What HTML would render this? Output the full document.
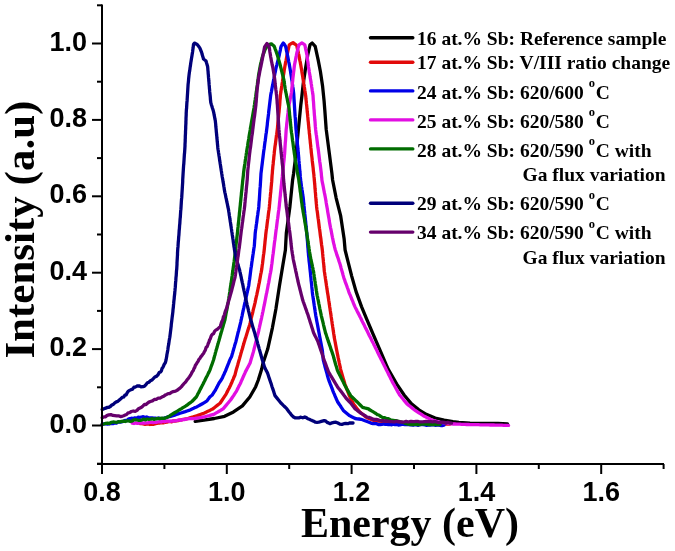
<!DOCTYPE html>
<html><head><meta charset="utf-8"><style>
html,body{margin:0;padding:0;background:#fff;}
svg{display:block;filter:blur(0.35px);}
</style></head><body>
<svg width="675" height="551" viewBox="0 0 675 551">
<rect width="675" height="551" fill="#fff"/>
<g><path d="M195.2,421.4 L203.9,420.2 L214.3,418.5 L224.6,416.3 L233.5,411.9 L242.4,405.9 L249.8,397.0 L255.7,386.7 L258.3,380.0 L261.7,369.0 L263.0,363.2 L267.7,349.1 L272.4,327.8 L275.9,309.0 L279.5,285.4 L283.0,264.2 L285.4,250.0 L286.3,233.3 L289.9,206.7 L292.6,180.0 L293.6,173.4 L296.0,153.9 L298.4,129.4 L300.8,105.0 L301.8,96.7 L303.3,83.3 L305.5,68.5 L307.7,55.2 L310.0,44.8 L312.2,43.0 L315.2,46.3 L318.1,59.6 L320.4,71.5 L322.6,86.3 L324.1,101.1 L324.8,110.0 L326.2,129.4 L329.4,153.9 L331.9,173.4 L332.6,180.0 L336.1,197.8 L340.6,215.6 L344.1,238.7 L345.1,250.0 L348.4,263.1 L351.7,276.1 L356.0,291.4 L361.5,306.6 L366.9,319.7 L373.4,334.9 L380.0,350.2 L386.5,365.4 L388.3,369.4 L396.6,383.9 L404.1,395.0 L411.5,403.9 L418.9,409.8 L426.3,414.3 L435.2,418.0 L444.1,420.2 L453.0,421.7 L458.9,422.4 L470.0,423.2 L485.0,423.4 L498.0,423.3 L507.5,423.8" stroke="#000000" stroke-width="3.3" fill="none" stroke-linejoin="round" stroke-linecap="round"/><path d="M140.0,423.5 L141.7,423.7 L143.3,424.0 L145.0,424.3 L146.7,424.1 L148.3,423.9 L150.0,424.5 L151.7,424.2 L153.3,424.4 L155.0,423.8 L156.7,423.5 L158.3,423.1 L160.0,423.0 L161.7,422.6 L163.3,422.8 L165.0,422.5 L166.7,422.2 L168.3,421.6 L170.0,421.4 L171.7,421.8 L173.3,420.9 L175.0,421.0 L176.6,420.9 L178.2,420.7 L179.9,420.2 L181.5,419.8 L183.1,419.4 L184.8,419.1 L186.4,418.8 L188.0,418.5 L189.8,417.9 L191.5,417.4 L193.2,416.9 L195.0,416.3 L196.8,415.7 L198.6,415.1 L200.3,414.5 L202.1,413.9 L203.9,413.3 L205.4,412.6 L206.9,411.8 L208.4,411.1 L209.8,410.4 L211.3,409.6 L212.8,408.9 L214.3,407.7 L215.8,406.5 L217.2,405.4 L218.7,404.2 L220.2,403.0 L221.2,401.5 L222.2,400.0 L223.1,398.6 L224.1,397.1 L225.1,395.6 L226.1,394.1 L226.8,392.6 L227.6,391.1 L228.3,389.6 L229.1,388.2 L229.8,386.7 L230.6,385.2 L231.2,383.7 L231.9,382.2 L232.5,380.7 L233.1,379.3 L233.7,377.8 L234.4,376.3 L235.0,374.8 L235.4,373.2 L235.8,371.6 L236.2,370.0 L236.7,368.3 L237.2,366.7 L237.7,365.0 L238.1,363.4 L238.6,361.7 L239.1,360.1 L239.6,358.4 L240.0,356.8 L240.5,355.2 L240.9,353.6 L241.4,352.0 L241.8,350.4 L242.3,348.9 L242.8,347.3 L243.2,345.7 L243.7,344.1 L244.1,342.5 L244.6,340.9 L245.1,339.2 L245.7,337.6 L246.2,335.9 L246.7,334.3 L247.2,332.6 L247.7,331.0 L248.2,329.3 L248.8,327.7 L249.3,326.0 L249.8,324.4 L250.3,322.4 L250.7,320.4 L251.2,318.4 L251.6,316.8 L252.0,315.2 L252.4,313.7 L252.8,312.1 L253.1,310.5 L253.5,308.9 L253.9,307.4 L254.3,305.8 L254.7,304.2 L255.1,302.6 L255.4,300.9 L255.8,299.2 L256.1,297.6 L256.5,295.9 L256.9,294.3 L257.2,292.6 L257.6,291.0 L257.9,289.3 L258.3,287.7 L258.6,286.0 L258.9,284.3 L259.3,282.6 L259.6,280.9 L259.9,279.2 L260.2,277.4 L260.5,275.7 L260.8,274.0 L261.2,272.3 L261.5,270.6 L261.8,268.9 L262.0,267.2 L262.2,265.5 L262.5,263.7 L262.7,262.0 L262.9,260.3 L263.1,258.6 L263.3,256.9 L263.5,255.2 L263.8,253.4 L264.0,251.7 L264.2,250.0 L264.4,248.3 L264.5,246.7 L264.7,245.0 L264.9,243.3 L265.0,241.7 L265.2,240.0 L265.4,238.3 L265.6,236.6 L265.7,235.0 L265.9,233.3 L266.1,231.6 L266.3,230.0 L266.6,228.3 L266.8,226.7 L267.0,225.0 L267.2,223.3 L267.4,221.7 L267.6,220.0 L267.9,218.3 L268.1,216.7 L268.3,215.0 L268.5,213.3 L268.7,211.7 L269.0,210.0 L269.2,208.4 L269.4,206.7 L269.5,205.0 L269.7,203.4 L269.8,201.7 L270.0,200.0 L270.1,198.4 L270.3,196.7 L270.4,195.0 L270.6,193.3 L270.8,191.7 L270.9,190.0 L271.1,188.3 L271.2,186.7 L271.4,185.0 L271.5,183.3 L271.7,181.7 L271.8,180.0 L271.9,178.4 L272.0,176.7 L272.1,175.1 L272.3,173.5 L272.4,171.8 L272.5,170.2 L272.7,168.6 L272.8,166.9 L273.0,165.3 L273.2,163.7 L273.3,162.0 L273.5,160.4 L273.7,158.8 L273.8,157.1 L274.0,155.5 L274.2,153.9 L274.3,152.2 L274.5,150.6 L274.7,149.0 L274.9,147.3 L275.1,145.7 L275.4,144.1 L275.6,142.4 L275.8,140.8 L276.0,139.2 L276.2,137.6 L276.4,135.9 L276.7,134.3 L276.9,132.7 L277.1,131.0 L277.3,129.4 L277.5,127.8 L277.6,126.1 L277.8,124.5 L277.9,122.9 L278.1,121.3 L278.3,119.6 L278.4,118.0 L278.6,116.4 L278.7,114.8 L278.9,113.1 L279.1,111.5 L279.2,109.9 L279.4,108.3 L279.5,106.6 L279.7,105.0 L279.8,103.4 L279.9,101.7 L280.0,100.1 L280.2,98.5 L280.3,96.8 L280.4,95.2 L280.6,93.6 L280.9,91.9 L281.1,90.3 L281.4,88.6 L281.6,87.0 L281.9,85.3 L282.1,83.7 L282.4,82.0 L282.6,80.4 L282.9,78.7 L283.2,77.1 L283.4,75.4 L283.7,73.7 L284.0,72.0 L284.2,70.3 L284.5,68.7 L284.8,67.0 L285.1,65.3 L285.4,63.6 L285.7,61.9 L286.1,60.3 L286.4,58.6 L286.7,56.9 L287.0,55.2 L287.4,53.5 L287.8,51.7 L288.1,50.0 L288.5,48.3 L288.9,46.5 L289.3,44.8 L291.1,43.7 L293.0,42.6 L294.9,44.1 L296.7,45.6 L297.1,47.2 L297.4,48.8 L297.8,50.4 L298.2,52.0 L298.5,53.6 L298.9,55.2 L299.2,56.9 L299.5,58.6 L299.8,60.3 L300.2,61.9 L300.5,63.6 L300.8,65.3 L301.1,67.0 L301.4,68.7 L301.7,70.3 L301.9,72.0 L302.2,73.7 L302.5,75.4 L302.8,77.1 L303.0,78.7 L303.3,80.4 L303.6,82.0 L303.8,83.7 L304.1,85.3 L304.3,87.0 L304.6,88.6 L304.8,90.3 L305.1,91.9 L305.3,93.6 L305.6,95.2 L305.8,96.8 L305.9,98.5 L306.1,100.1 L306.3,101.7 L306.4,103.4 L306.6,105.0 L306.8,106.6 L306.9,108.3 L307.1,109.9 L307.2,111.5 L307.4,113.1 L307.6,114.8 L307.7,116.4 L307.9,118.0 L308.0,119.6 L308.2,121.3 L308.4,122.9 L308.5,124.5 L308.7,126.1 L308.8,127.8 L309.0,129.4 L309.2,131.0 L309.3,132.7 L309.5,134.3 L309.7,135.9 L309.8,137.6 L310.0,139.2 L310.2,140.8 L310.3,142.5 L310.5,144.1 L310.7,145.7 L310.8,147.4 L311.0,149.0 L311.2,150.6 L311.3,152.3 L311.5,153.9 L311.7,155.5 L311.9,157.1 L312.1,158.8 L312.2,160.4 L312.4,162.0 L312.6,163.6 L312.8,165.3 L313.0,166.9 L313.2,168.5 L313.3,170.1 L313.5,171.8 L313.7,173.4 L313.9,175.0 L314.0,176.7 L314.2,178.3 L314.3,180.0 L314.5,181.7 L314.6,183.3 L314.8,185.0 L314.9,186.7 L315.0,188.3 L315.2,190.0 L315.3,191.7 L315.5,193.4 L315.6,195.0 L315.7,196.7 L315.9,198.4 L316.0,200.0 L316.2,201.7 L316.3,203.4 L316.5,205.0 L316.6,206.7 L316.8,208.4 L317.0,210.0 L317.3,211.7 L317.5,213.3 L317.7,215.0 L317.9,216.7 L318.1,218.3 L318.4,220.0 L318.6,221.7 L318.8,223.3 L319.0,225.0 L319.2,226.7 L319.4,228.3 L319.7,230.0 L319.9,231.6 L320.1,233.3 L320.3,235.0 L320.5,236.6 L320.8,238.3 L321.0,240.0 L321.2,241.7 L321.4,243.3 L321.6,245.0 L321.9,246.7 L322.1,248.3 L322.3,250.0 L322.5,251.7 L322.6,253.4 L322.8,255.0 L322.9,256.7 L323.1,258.4 L323.3,260.1 L323.4,261.7 L323.6,263.4 L323.8,265.1 L323.9,266.8 L324.1,268.4 L324.2,270.1 L324.4,271.8 L324.7,273.5 L324.9,275.2 L325.2,276.8 L325.4,278.5 L325.7,280.2 L325.9,281.9 L326.2,283.5 L326.4,285.2 L326.7,286.9 L326.9,288.6 L327.2,290.2 L327.4,291.9 L327.7,293.6 L328.0,295.3 L328.2,296.9 L328.5,298.6 L328.7,300.3 L329.0,301.9 L329.2,303.6 L329.5,305.3 L329.7,307.0 L330.0,308.6 L330.2,310.3 L330.5,312.0 L330.7,313.6 L331.0,315.3 L331.2,317.0 L331.5,318.7 L331.7,320.3 L332.0,322.0 L332.2,323.7 L332.5,325.4 L332.7,327.0 L333.0,328.7 L333.2,330.4 L333.5,332.1 L333.7,333.7 L334.0,335.4 L334.2,337.1 L334.5,338.7 L334.8,340.3 L335.1,341.8 L335.4,343.4 L335.7,345.0 L336.0,346.6 L336.3,348.2 L336.6,349.8 L336.9,351.3 L337.2,352.9 L337.5,354.5 L337.9,356.2 L338.2,357.9 L338.6,359.7 L339.0,361.4 L339.3,363.1 L339.7,364.8 L340.1,366.6 L340.4,368.3 L340.8,370.0 L341.3,371.7 L341.8,373.4 L342.3,375.1 L342.8,376.9 L343.3,378.6 L343.8,380.3 L344.3,382.0 L344.8,383.7 L345.4,385.4 L346.1,387.1 L346.7,388.8 L347.4,390.5 L348.0,392.2 L348.7,393.9 L349.3,395.6 L350.0,397.1 L350.8,398.5 L351.5,400.0 L352.2,401.5 L353.0,402.9 L353.7,404.4 L354.9,405.9 L356.1,407.4 L357.2,408.9 L358.4,410.4 L359.6,411.9 L361.1,413.1 L362.6,414.3 L364.0,415.4 L365.5,416.6 L367.0,417.8 L368.9,418.5 L370.7,419.2 L372.5,420.0 L374.4,420.7 L376.3,420.9 L378.1,421.1 L380.0,421.1 L381.9,421.5 L383.5,421.7 L385.1,421.9 L386.8,421.7 L388.4,422.2 L390.0,422.2 L391.7,422.1 L393.3,422.4 L395.0,422.5 L396.7,422.2 L398.3,422.6 L400.0,422.6 L401.7,422.5 L403.3,422.9 L405.0,422.6 L406.7,423.0 L408.3,423.1 L410.0,423.0 L411.7,422.7 L413.3,422.8 L415.0,422.9 L416.7,423.0 L418.3,423.3 L420.0,423.5 L421.7,423.0 L423.3,423.6 L425.0,423.3 L426.7,423.7 L428.3,423.2 L430.0,423.5 L431.7,423.1 L433.3,423.9 L435.0,423.4 L436.7,423.6 L438.3,423.4 L440.0,423.6 L441.7,424.0 L443.3,423.6 L445.0,424.1 L446.7,424.0 L448.3,424.1 L450.0,424.0" stroke="#e20a0a" stroke-width="3.3" fill="none" stroke-linejoin="round" stroke-linecap="round"/><path d="M102.2,424.4 L104.0,423.9 L105.8,423.8 L107.6,424.0 L109.4,423.9 L111.2,423.5 L113.0,423.6 L114.8,423.0 L116.5,423.0 L118.2,421.9 L119.9,422.1 L121.6,421.9 L123.3,421.5 L125.0,420.5 L126.7,420.7 L128.3,419.2 L130.0,418.7 L131.6,418.2 L133.3,418.5 L134.9,417.9 L136.6,418.1 L138.2,417.2 L139.9,417.3 L141.5,417.0 L143.2,416.7 L145.0,417.6 L146.7,417.0 L148.4,417.8 L150.2,417.8 L151.9,417.8 L153.6,418.2 L155.3,418.1 L157.1,418.6 L158.8,418.0 L160.5,418.8 L162.2,418.5 L163.8,418.5 L165.4,417.7 L167.0,417.2 L169.1,416.6 L171.1,416.3 L172.9,415.7 L174.7,415.1 L176.4,414.5 L178.2,413.9 L180.0,413.3 L181.8,412.7 L183.6,412.1 L185.3,411.6 L187.1,411.0 L188.9,410.4 L190.5,409.7 L192.0,409.0 L193.6,408.3 L195.1,407.6 L196.7,406.9 L198.1,406.1 L199.6,405.3 L201.0,404.5 L202.4,403.7 L203.9,402.8 L205.5,401.8 L207.0,400.9 L207.9,399.6 L208.9,398.3 L209.8,397.0 L212.2,395.0 L213.1,393.6 L213.9,392.3 L214.8,391.0 L215.7,389.6 L216.4,388.1 L217.2,386.6 L217.9,385.2 L218.7,383.7 L219.6,382.2 L220.6,380.8 L221.5,379.3 L222.4,377.8 L223.1,376.1 L223.9,374.5 L224.6,372.8 L225.4,371.2 L226.1,369.5 L226.7,367.9 L227.3,366.3 L227.9,364.8 L228.6,363.2 L229.2,361.6 L229.8,360.0 L230.8,358.1 L231.7,356.2 L232.1,354.6 L232.6,353.0 L233.0,351.4 L233.5,349.8 L233.9,348.2 L234.4,346.7 L234.8,345.1 L235.3,343.5 L235.8,341.9 L236.2,340.3 L236.6,338.6 L237.0,337.0 L237.4,335.3 L237.8,333.7 L238.2,332.0 L238.7,330.4 L239.1,328.7 L239.5,327.1 L239.9,325.4 L240.3,323.8 L240.7,322.1 L241.0,320.5 L241.4,318.9 L241.7,317.4 L242.1,315.8 L242.4,314.2 L242.7,312.6 L243.1,311.0 L243.4,309.5 L243.8,307.9 L244.1,306.3 L244.5,304.7 L244.8,303.1 L245.2,301.6 L245.5,300.0 L245.9,298.4 L246.2,296.8 L246.6,295.3 L246.9,293.7 L247.3,292.1 L247.6,290.5 L248.0,289.0 L248.3,287.4 L248.7,285.8 L248.9,284.2 L249.1,282.6 L249.3,281.0 L249.6,279.5 L249.8,277.9 L250.0,276.3 L250.2,274.7 L250.4,273.1 L250.6,271.5 L250.8,269.9 L251.0,268.3 L251.3,266.8 L251.5,265.2 L251.7,263.6 L251.9,262.0 L252.2,260.3 L252.4,258.6 L252.7,256.9 L252.9,255.2 L253.2,253.5 L253.4,251.8 L253.7,250.1 L253.9,248.4 L254.2,246.7 L254.4,245.0 L254.5,243.3 L254.6,241.7 L254.7,240.0 L254.9,238.3 L255.0,236.6 L255.1,235.0 L255.2,233.3 L255.4,231.6 L255.6,230.0 L255.9,228.3 L256.1,226.7 L256.3,225.0 L256.6,223.3 L256.8,221.7 L257.0,220.0 L257.2,218.3 L257.4,216.7 L257.7,215.0 L257.9,213.3 L258.1,211.7 L258.4,210.0 L258.6,208.4 L258.8,206.7 L258.9,205.1 L259.0,203.4 L259.1,201.8 L259.3,200.1 L259.4,198.5 L259.5,196.8 L259.6,195.2 L259.7,193.5 L259.8,191.9 L259.9,190.2 L260.0,188.6 L260.2,186.9 L260.3,185.3 L260.4,183.6 L260.5,182.0 L260.6,180.3 L260.7,178.6 L260.8,176.8 L260.9,175.1 L261.0,173.4 L261.2,171.8 L261.4,170.2 L261.6,168.5 L261.8,166.9 L262.0,165.3 L262.2,163.7 L262.4,162.0 L262.6,160.4 L262.8,158.8 L263.0,157.2 L263.2,155.5 L263.4,153.9 L263.6,152.3 L263.8,150.6 L264.1,149.0 L264.3,147.4 L264.5,145.7 L264.7,144.1 L264.9,142.5 L265.2,140.8 L265.4,139.2 L265.6,137.6 L265.8,135.9 L266.0,134.3 L266.3,132.7 L266.5,131.0 L266.7,129.4 L266.9,127.8 L267.1,126.2 L267.3,124.6 L267.4,123.0 L267.6,121.4 L267.8,119.8 L268.0,118.2 L268.2,116.6 L268.4,115.0 L268.6,113.4 L268.7,111.8 L268.9,110.2 L269.1,108.6 L269.3,107.0 L269.5,105.3 L269.7,103.6 L269.9,101.9 L270.1,100.3 L270.3,98.6 L270.5,96.9 L270.7,95.2 L271.0,93.5 L271.4,91.8 L271.7,90.1 L272.0,88.4 L272.3,86.7 L272.7,85.0 L273.0,83.3 L273.3,81.7 L273.6,80.0 L274.0,78.4 L274.3,76.7 L274.6,75.1 L274.9,73.4 L275.3,71.8 L275.6,70.1 L275.9,68.5 L276.3,66.8 L276.8,65.1 L277.2,63.4 L277.6,61.8 L278.0,60.1 L278.5,58.4 L278.9,56.7 L279.3,55.0 L279.6,53.2 L280.0,51.5 L280.4,49.8 L280.7,48.0 L281.1,46.3 L282.2,44.6 L283.3,43.0 L284.5,44.6 L285.6,46.3 L286.0,48.0 L286.3,49.8 L286.7,51.5 L287.1,53.2 L287.4,55.0 L287.8,56.7 L288.1,58.4 L288.4,60.1 L288.7,61.8 L289.1,63.4 L289.4,65.1 L289.7,66.8 L290.0,68.5 L290.3,70.2 L290.6,71.8 L290.8,73.5 L291.1,75.2 L291.4,76.9 L291.6,78.6 L291.9,80.2 L292.2,81.9 L292.4,83.6 L292.6,85.3 L292.8,87.0 L293.1,88.6 L293.3,90.3 L293.5,92.0 L293.7,93.7 L293.8,95.3 L293.9,96.9 L294.0,98.5 L294.1,100.2 L294.2,101.8 L294.3,103.4 L294.4,105.0 L294.5,106.6 L294.6,108.3 L294.7,109.9 L294.8,111.5 L294.9,113.1 L295.0,114.8 L295.1,116.4 L295.3,118.0 L295.4,119.6 L295.5,121.3 L295.6,122.9 L295.7,124.5 L295.8,126.1 L295.9,127.8 L296.0,129.4 L296.2,131.0 L296.3,132.7 L296.5,134.3 L296.6,135.9 L296.8,137.6 L297.0,139.2 L297.1,140.8 L297.3,142.5 L297.4,144.1 L297.6,145.7 L297.8,147.4 L297.9,149.0 L298.1,150.6 L298.2,152.3 L298.4,153.9 L298.5,155.5 L298.7,157.2 L298.8,158.8 L298.9,160.4 L299.1,162.1 L299.2,163.7 L299.4,165.3 L299.5,166.9 L299.6,168.6 L299.8,170.2 L299.9,171.8 L300.1,173.5 L300.2,175.1 L300.3,176.7 L300.5,178.4 L300.6,180.0 L300.8,181.6 L301.1,183.2 L301.3,184.9 L301.5,186.5 L301.8,188.1 L302.0,189.7 L302.3,191.3 L302.5,192.9 L302.7,194.6 L303.0,196.2 L303.2,197.8 L303.4,199.4 L303.5,201.0 L303.7,202.6 L303.9,204.3 L304.0,205.9 L304.2,207.5 L304.3,209.1 L304.5,210.7 L304.7,212.3 L304.8,213.9 L305.0,215.6 L305.2,217.2 L305.3,218.8 L305.5,220.4 L305.7,222.0 L305.8,223.6 L306.0,225.2 L306.1,226.8 L306.3,228.5 L306.5,230.1 L306.6,231.7 L306.8,233.3 L306.9,235.0 L307.1,236.6 L307.2,238.3 L307.3,240.0 L307.5,241.6 L307.6,243.3 L307.7,245.0 L307.8,246.7 L308.0,248.3 L308.1,250.0 L308.2,251.7 L308.4,253.3 L308.5,255.0 L308.7,256.7 L308.9,258.4 L309.0,260.0 L309.2,261.7 L309.4,263.4 L309.6,265.1 L309.8,266.8 L309.9,268.4 L310.1,270.1 L310.3,271.8 L310.5,273.5 L310.6,275.2 L310.8,276.8 L311.0,278.5 L311.1,280.2 L311.3,281.9 L311.5,283.5 L311.7,285.2 L311.8,286.9 L312.0,288.6 L312.2,290.2 L312.3,291.9 L312.5,293.6 L312.7,295.3 L313.0,296.9 L313.2,298.6 L313.5,300.3 L313.7,301.9 L314.0,303.6 L314.2,305.3 L314.5,307.0 L314.7,308.6 L315.0,310.3 L315.2,312.0 L315.5,313.6 L315.7,315.3 L316.0,316.9 L316.3,318.5 L316.6,320.1 L316.9,321.7 L317.2,323.3 L317.5,324.8 L317.8,326.4 L318.1,328.0 L318.4,329.6 L318.7,331.2 L319.0,332.8 L319.3,334.4 L319.6,336.0 L319.9,337.5 L320.2,339.1 L320.5,340.7 L320.8,342.3 L321.1,343.9 L321.4,345.5 L321.7,347.0 L322.0,348.6 L322.3,350.2 L322.5,351.8 L322.6,353.5 L322.8,355.1 L323.0,356.7 L323.1,358.4 L323.3,360.0 L323.8,361.8 L324.2,363.6 L324.7,365.3 L325.1,367.1 L325.6,368.9 L326.1,370.6 L326.6,372.4 L327.1,374.1 L327.5,375.8 L328.0,377.6 L328.5,379.3 L329.1,381.0 L329.8,382.7 L330.4,384.4 L331.1,386.0 L331.7,387.7 L332.4,389.4 L333.0,391.1 L333.6,392.6 L334.3,394.1 L334.9,395.6 L335.5,397.0 L336.1,398.5 L336.8,400.0 L337.4,401.5 L338.4,403.0 L339.4,404.5 L340.4,405.9 L341.3,407.4 L342.3,408.9 L343.3,410.4 L344.8,411.7 L346.3,413.0 L347.8,414.3 L349.3,415.6 L350.8,416.3 L352.2,417.1 L353.7,417.8 L355.2,418.5 L357.2,418.8 L359.1,419.0 L361.1,419.3 L363.1,420.0 L365.0,420.8 L367.0,421.5 L369.0,422.2 L371.0,423.1 L373.0,423.7 L374.8,423.4 L376.6,423.7 L378.3,424.5 L380.1,424.7 L381.9,424.4 L383.5,424.0 L385.1,424.3 L386.8,424.3 L388.4,424.6 L390.0,424.4 L391.7,424.8 L393.3,424.2 L395.0,424.7 L396.7,424.5 L398.3,425.0 L400.0,424.8 L401.7,424.4 L403.3,424.4 L405.0,424.7 L406.7,424.7 L408.3,424.4 L410.0,424.8 L411.7,424.8 L413.3,425.2 L415.0,424.6 L416.7,424.9 L418.3,425.3 L420.0,424.5 L421.7,424.7 L423.3,424.6 L425.0,425.0 L426.7,425.4 L428.3,424.8 L430.0,425.0 L431.8,424.9 L433.5,424.7 L435.2,425.3 L437.0,425.2 L438.8,425.2 L440.5,425.5 L442.2,425.5 L444.0,425.2" stroke="#0000e8" stroke-width="3.3" fill="none" stroke-linejoin="round" stroke-linecap="round"/><path d="M132.2,423.1 L134.0,423.5 L135.8,423.0 L137.6,423.3 L139.4,422.8 L141.2,423.1 L143.0,423.0 L144.8,423.1 L146.4,422.9 L148.1,422.8 L149.7,422.4 L151.4,422.1 L153.0,422.6 L154.7,422.2 L156.3,422.3 L158.0,422.0 L159.6,421.7 L161.2,422.0 L162.9,421.2 L164.5,421.8 L166.2,421.2 L167.8,421.0 L169.5,421.4 L171.1,421.2 L172.8,421.0 L174.4,420.9 L176.1,420.8 L177.7,420.2 L179.4,419.9 L181.0,420.3 L182.7,419.6 L184.3,419.7 L186.0,419.2 L187.6,418.9 L189.3,418.7 L191.2,418.6 L193.1,418.6 L195.0,418.5 L196.8,418.2 L198.6,417.9 L200.3,417.6 L202.1,417.3 L203.9,417.0 L205.6,416.5 L207.4,416.0 L209.1,415.6 L210.8,415.1 L212.6,414.6 L214.3,414.1 L215.8,413.2 L217.2,412.4 L218.7,411.5 L220.2,410.6 L221.6,409.8 L223.1,408.9 L224.2,407.6 L225.2,406.4 L226.3,405.1 L227.4,403.8 L228.5,402.5 L229.5,401.3 L230.6,400.0 L231.6,398.5 L232.6,397.0 L233.6,395.6 L234.5,394.1 L235.5,392.6 L236.5,391.1 L237.2,389.6 L238.0,388.1 L238.7,386.6 L239.4,385.2 L240.2,383.7 L240.9,382.2 L241.5,380.7 L242.2,379.3 L242.8,377.8 L243.5,376.3 L244.1,374.8 L244.8,373.4 L245.4,371.9 L246.2,370.4 L246.9,369.0 L247.7,367.5 L248.5,366.1 L249.2,364.6 L250.0,363.2 L250.5,361.5 L251.0,359.8 L251.5,358.1 L252.0,356.5 L252.5,354.8 L253.0,353.1 L253.5,351.4 L253.9,349.8 L254.3,348.2 L254.7,346.7 L255.1,345.1 L255.5,343.5 L255.9,341.9 L256.3,340.4 L256.7,338.8 L257.1,337.2 L257.5,335.6 L257.9,334.1 L258.3,332.5 L258.7,330.9 L259.0,329.2 L259.4,327.6 L259.7,326.0 L260.1,324.3 L260.5,322.7 L260.8,321.1 L261.2,319.5 L261.6,317.8 L261.9,316.2 L262.3,314.6 L262.6,312.9 L263.0,311.3 L263.3,309.7 L263.6,308.2 L263.9,306.6 L264.3,305.0 L264.6,303.4 L264.9,301.9 L265.2,300.3 L265.5,298.7 L265.8,297.1 L266.1,295.6 L266.4,294.0 L266.8,292.4 L267.1,290.8 L267.4,289.3 L267.7,287.7 L268.0,286.0 L268.3,284.3 L268.7,282.6 L269.0,280.9 L269.3,279.2 L269.6,277.4 L269.9,275.7 L270.2,274.0 L270.6,272.3 L270.9,270.6 L271.2,268.9 L271.4,267.2 L271.6,265.5 L271.9,263.7 L272.1,262.0 L272.3,260.3 L272.5,258.6 L272.7,256.9 L272.9,255.2 L273.2,253.4 L273.4,251.7 L273.6,250.0 L273.8,248.3 L274.0,246.7 L274.2,245.0 L274.4,243.3 L274.6,241.7 L274.9,240.0 L275.1,238.3 L275.3,236.6 L275.5,235.0 L275.7,233.3 L275.9,231.6 L276.1,230.0 L276.4,228.3 L276.6,226.7 L276.8,225.0 L277.0,223.3 L277.2,221.7 L277.4,220.0 L277.7,218.3 L277.9,216.7 L278.1,215.0 L278.3,213.3 L278.5,211.7 L278.8,210.0 L279.0,208.4 L279.2,206.7 L279.4,205.0 L279.5,203.4 L279.7,201.7 L279.9,200.0 L280.0,198.4 L280.2,196.7 L280.4,195.0 L280.5,193.3 L280.7,191.7 L280.9,190.0 L281.1,188.3 L281.2,186.7 L281.4,185.0 L281.6,183.3 L281.7,181.7 L281.9,180.0 L282.1,178.4 L282.3,176.7 L282.4,175.1 L282.6,173.5 L282.8,171.8 L283.0,170.2 L283.2,168.6 L283.3,166.9 L283.5,165.3 L283.6,163.7 L283.8,162.1 L284.0,160.4 L284.1,158.8 L284.3,157.2 L284.4,155.5 L284.6,153.9 L284.7,152.3 L284.8,150.6 L284.9,149.0 L285.0,147.4 L285.1,145.7 L285.2,144.1 L285.3,142.5 L285.5,140.8 L285.6,139.2 L285.7,137.6 L285.8,135.9 L285.9,134.3 L286.0,132.7 L286.1,131.0 L286.2,129.4 L286.4,127.8 L286.6,126.1 L286.7,124.5 L286.9,122.8 L287.1,121.2 L287.3,119.5 L287.4,117.9 L287.6,116.2 L287.8,114.6 L288.0,112.9 L288.1,111.3 L288.3,109.6 L288.5,108.0 L288.8,106.4 L289.1,104.8 L289.4,103.3 L289.7,101.7 L290.0,100.1 L290.3,98.5 L290.6,96.9 L290.9,95.4 L291.2,93.8 L291.5,92.2 L291.7,90.6 L291.8,88.9 L292.0,87.3 L292.2,85.6 L292.3,84.0 L292.5,82.3 L292.7,80.7 L292.8,79.0 L293.0,77.4 L293.2,75.7 L293.4,74.0 L293.6,72.3 L293.8,70.7 L294.0,69.0 L294.2,67.3 L294.4,65.6 L294.7,63.9 L295.1,62.2 L295.4,60.5 L295.7,58.8 L296.0,57.1 L296.4,55.4 L296.7,53.7 L297.1,51.9 L297.6,50.1 L298.0,48.4 L298.5,46.6 L298.9,44.8 L300.4,43.9 L301.9,43.0 L303.4,43.9 L304.8,44.8 L305.2,46.5 L305.5,48.3 L305.9,50.0 L306.3,51.7 L306.6,53.5 L307.0,55.2 L307.2,56.9 L307.4,58.6 L307.6,60.3 L307.9,61.9 L308.1,63.6 L308.3,65.3 L308.5,67.0 L308.8,68.7 L309.1,70.3 L309.3,72.0 L309.6,73.7 L309.9,75.4 L310.1,77.1 L310.4,78.7 L310.7,80.4 L311.0,82.0 L311.2,83.7 L311.5,85.3 L311.7,87.0 L312.0,88.6 L312.2,90.3 L312.5,91.9 L312.7,93.6 L313.0,95.2 L313.1,96.9 L313.2,98.6 L313.3,100.3 L313.5,101.9 L313.6,103.6 L313.7,105.3 L313.8,107.0 L313.9,108.6 L314.1,110.2 L314.2,111.8 L314.3,113.4 L314.4,115.0 L314.6,116.6 L314.7,118.2 L314.8,119.8 L315.0,121.4 L315.1,123.0 L315.2,124.6 L315.3,126.2 L315.5,127.8 L315.6,129.4 L315.8,131.0 L316.0,132.7 L316.2,134.3 L316.5,135.9 L316.7,137.6 L316.9,139.2 L317.1,140.8 L317.3,142.5 L317.5,144.1 L317.7,145.7 L317.9,147.4 L318.2,149.0 L318.4,150.6 L318.6,152.3 L318.8,153.9 L319.0,155.5 L319.2,157.2 L319.4,158.8 L319.6,160.4 L319.8,162.0 L320.1,163.7 L320.3,165.3 L320.5,166.9 L320.7,168.5 L320.9,170.2 L321.1,171.8 L321.3,173.4 L321.4,175.1 L321.6,176.7 L321.8,178.3 L321.9,180.0 L322.2,181.6 L322.5,183.2 L322.9,184.9 L323.2,186.5 L323.5,188.1 L323.8,189.7 L324.1,191.3 L324.4,192.9 L324.8,194.6 L325.1,196.2 L325.4,197.8 L325.7,199.5 L326.0,201.1 L326.2,202.8 L326.5,204.5 L326.8,206.1 L327.1,207.8 L327.4,209.4 L327.6,211.1 L327.9,212.8 L328.2,214.4 L328.5,216.1 L328.8,217.8 L329.1,219.4 L329.3,221.1 L329.6,222.7 L329.9,224.4 L330.2,226.0 L330.5,227.6 L330.9,229.3 L331.2,230.9 L331.5,232.5 L331.8,234.1 L332.1,235.7 L332.4,237.3 L332.8,239.0 L333.1,240.6 L333.4,242.2 L333.8,243.8 L334.2,245.3 L334.5,246.9 L334.9,248.4 L335.3,250.0 L335.9,251.6 L336.4,253.3 L336.9,254.9 L337.5,256.6 L338.1,258.2 L338.6,259.8 L339.1,261.5 L339.7,263.1 L340.2,264.8 L340.7,266.5 L341.1,268.2 L341.6,269.9 L342.1,271.5 L342.6,273.2 L343.0,274.9 L343.5,276.6 L344.0,278.3 L344.6,279.8 L345.1,281.4 L345.6,282.9 L346.2,284.4 L346.8,286.0 L347.3,287.5 L347.9,289.0 L348.4,290.5 L348.9,292.1 L349.5,293.6 L350.2,295.2 L350.9,296.9 L351.5,298.5 L352.2,300.1 L352.9,301.7 L353.5,303.4 L354.2,305.0 L354.9,306.6 L355.6,308.1 L356.4,309.5 L357.1,311.0 L357.8,312.4 L358.6,313.9 L359.3,315.3 L360.0,316.8 L360.8,318.2 L361.5,319.7 L362.2,321.2 L362.9,322.6 L363.7,324.1 L364.4,325.5 L365.1,327.0 L365.8,328.4 L366.6,329.9 L367.3,331.3 L368.0,332.8 L368.7,334.2 L369.4,335.7 L370.2,337.1 L370.9,338.6 L371.6,340.0 L372.3,341.5 L373.1,342.9 L373.8,344.4 L374.5,345.8 L375.3,347.4 L376.1,349.0 L376.9,350.6 L377.6,352.2 L378.4,353.8 L379.2,355.4 L380.0,357.0 L380.8,358.6 L381.6,360.1 L382.3,361.6 L383.1,363.2 L383.9,364.8 L384.6,366.3 L385.4,367.8 L386.2,369.4 L387.0,371.0 L387.8,372.5 L388.5,374.1 L389.3,375.6 L390.1,377.2 L390.8,378.8 L391.6,380.3 L392.4,381.9 L393.2,383.4 L394.0,384.8 L394.8,386.3 L395.6,387.7 L396.4,389.2 L397.2,390.6 L398.0,392.1 L398.8,393.5 L399.6,395.0 L400.7,396.3 L401.7,397.5 L402.8,398.8 L403.8,400.1 L404.9,401.4 L405.9,402.6 L407.0,403.9 L408.5,405.1 L410.0,406.3 L411.4,407.4 L412.9,408.6 L414.4,409.8 L415.9,410.8 L417.4,411.8 L418.9,412.8 L420.3,413.7 L421.8,414.7 L423.3,415.7 L424.8,416.4 L426.3,417.2 L427.8,417.9 L429.2,418.7 L430.7,419.4 L432.2,420.2 L434.0,420.6 L435.8,421.1 L437.5,421.5 L439.3,422.0 L441.1,422.4 L442.8,422.6 L444.6,422.9 L446.3,423.1 L448.0,423.4 L449.8,423.6 L451.5,423.9 L453.2,424.0 L454.9,424.0 L456.5,424.1 L458.2,424.2 L459.9,424.2 L461.6,424.3 L463.3,424.3 L465.0,424.4 L466.6,424.5 L468.3,424.5 L470.0,424.6 L471.7,424.6 L473.4,424.7 L475.1,424.7 L476.9,424.7 L478.6,424.7 L480.3,424.8 L482.0,424.8 L483.7,424.8 L485.4,424.8 L487.0,424.9 L488.7,424.9 L490.3,425.0 L492.0,425.0 L493.7,425.0 L495.3,425.1 L497.0,425.1 L498.6,425.2 L500.3,425.2 L502.0,425.2 L503.6,425.3 L505.3,425.3 L506.9,425.4 L508.6,425.4" stroke="#e20ee2" stroke-width="3.3" fill="none" stroke-linejoin="round" stroke-linecap="round"/><path d="M102.2,424.4 L104.0,424.0 L105.8,423.4 L107.6,423.1 L109.4,423.5 L111.2,422.4 L113.0,422.0 L114.8,422.2 L116.5,422.5 L118.3,421.7 L120.0,421.9 L121.7,421.4 L123.5,421.1 L125.2,421.5 L126.9,420.9 L128.6,420.8 L130.3,421.3 L131.9,421.1 L133.6,420.0 L135.3,419.7 L137.0,420.0 L138.7,420.3 L140.4,420.3 L142.1,419.8 L143.8,419.1 L145.5,419.9 L147.2,419.0 L148.9,419.3 L150.7,419.2 L152.5,418.7 L154.2,419.4 L156.0,418.8 L157.8,418.3 L159.6,418.7 L161.5,418.1 L163.5,418.3 L165.4,418.0 L166.8,417.5 L168.2,416.8 L169.7,415.9 L171.1,414.8 L172.6,413.9 L174.1,413.0 L175.5,412.2 L177.0,411.3 L178.5,410.4 L180.0,409.5 L181.5,408.6 L182.9,407.7 L184.4,406.8 L185.9,405.9 L187.4,404.8 L188.9,403.7 L190.4,402.6 L191.9,401.5 L193.4,400.0 L194.8,398.5 L196.3,397.0 L197.1,395.5 L197.8,394.0 L198.6,392.6 L199.4,391.1 L200.1,389.6 L200.9,388.1 L201.7,386.6 L202.4,385.2 L203.2,383.7 L203.9,382.2 L204.7,380.8 L205.4,379.3 L206.1,377.8 L206.9,376.3 L207.6,374.9 L208.3,373.4 L209.1,371.9 L209.8,370.4 L210.4,368.7 L211.0,366.9 L211.7,365.2 L212.3,363.5 L212.9,361.7 L213.5,360.0 L214.0,358.3 L214.4,356.6 L214.9,355.0 L215.3,353.3 L215.8,351.6 L216.2,350.0 L216.7,348.4 L217.2,346.8 L217.6,345.2 L218.1,343.6 L218.5,342.1 L219.0,340.5 L219.4,338.9 L219.9,337.3 L220.3,335.7 L220.8,334.1 L221.2,332.5 L221.7,331.0 L222.1,329.4 L222.6,327.8 L223.1,326.2 L223.5,324.6 L224.0,323.1 L224.4,321.5 L224.9,319.9 L225.2,318.2 L225.5,316.6 L225.8,314.9 L226.1,313.3 L226.4,311.6 L226.8,310.0 L227.1,308.3 L227.4,306.7 L227.7,305.0 L228.0,303.4 L228.3,301.7 L228.5,300.1 L228.8,298.5 L229.0,296.8 L229.3,295.2 L229.5,293.6 L229.8,292.0 L230.0,290.4 L230.2,288.7 L230.5,287.1 L230.7,285.5 L231.0,283.9 L231.2,282.2 L231.5,280.6 L231.7,279.0 L231.9,277.3 L232.2,275.5 L232.4,273.8 L232.6,272.1 L232.9,270.4 L233.1,268.6 L233.4,266.9 L233.6,265.2 L233.8,263.5 L234.1,261.7 L234.3,260.0 L234.5,258.3 L234.7,256.7 L234.9,255.0 L235.1,253.3 L235.3,251.7 L235.5,250.0 L235.7,248.3 L235.9,246.7 L236.0,245.0 L236.2,243.3 L236.4,241.6 L236.6,240.0 L236.8,238.3 L237.0,236.6 L237.2,235.0 L237.4,233.3 L237.6,231.6 L237.7,230.0 L237.9,228.3 L238.1,226.7 L238.2,225.0 L238.4,223.3 L238.6,221.7 L238.8,220.0 L238.9,218.3 L239.1,216.7 L239.3,215.0 L239.4,213.3 L239.6,211.7 L239.8,210.0 L239.9,208.4 L240.1,206.7 L240.3,205.0 L240.4,203.4 L240.6,201.7 L240.8,200.0 L240.9,198.4 L241.1,196.7 L241.3,195.0 L241.4,193.3 L241.6,191.7 L241.8,190.0 L242.0,188.3 L242.1,186.7 L242.3,185.0 L242.5,183.3 L242.6,181.7 L242.8,180.0 L243.0,178.4 L243.2,176.7 L243.4,175.1 L243.5,173.5 L243.7,171.8 L243.9,170.2 L244.1,168.6 L244.4,166.9 L244.6,165.3 L244.9,163.7 L245.1,162.1 L245.3,160.4 L245.6,158.8 L245.8,157.2 L246.1,155.5 L246.3,153.9 L246.6,152.2 L246.8,150.5 L247.1,148.7 L247.4,147.0 L247.7,145.3 L247.9,143.6 L248.2,141.9 L248.5,140.2 L248.8,138.4 L249.0,136.7 L249.3,135.0 L249.6,133.3 L249.9,131.7 L250.2,130.0 L250.4,128.3 L250.7,126.7 L251.0,125.0 L251.3,123.3 L251.6,121.6 L251.9,119.9 L252.2,118.2 L252.5,116.5 L252.8,114.8 L253.1,113.1 L253.4,111.4 L253.7,109.7 L254.0,108.0 L254.2,106.4 L254.5,104.7 L254.7,103.1 L254.9,101.5 L255.2,99.8 L255.4,98.2 L255.7,96.5 L255.9,94.9 L256.1,93.3 L256.4,91.6 L256.6,90.0 L256.8,88.3 L257.0,86.7 L257.3,85.0 L257.5,83.3 L257.7,81.7 L257.9,80.0 L258.2,78.3 L258.4,76.7 L258.6,75.0 L258.9,73.3 L259.2,71.7 L259.5,70.0 L259.8,68.3 L260.1,66.7 L260.4,65.0 L260.8,63.2 L261.3,61.4 L261.7,59.6 L262.2,57.8 L262.6,56.0 L263.3,54.2 L264.0,52.5 L264.6,50.8 L265.3,49.0 L266.2,47.7 L267.1,46.3 L268.0,45.0 L269.7,44.4 L271.4,43.8 L272.7,44.9 L274.0,46.0 L274.7,47.7 L275.3,49.3 L276.0,51.0 L276.6,53.0 L277.3,55.0 L277.9,57.0 L278.4,58.7 L278.9,60.5 L279.4,62.2 L279.9,63.9 L280.3,65.5 L280.7,67.1 L281.1,68.7 L281.5,70.3 L281.9,71.9 L282.3,73.5 L282.7,75.1 L283.1,76.7 L283.5,78.3 L283.9,79.9 L284.1,81.6 L284.4,83.3 L284.6,85.0 L284.9,86.6 L285.1,88.3 L285.4,90.0 L285.7,91.7 L286.1,93.3 L286.4,95.0 L286.7,96.7 L287.1,98.3 L287.4,100.0 L287.7,101.6 L288.0,103.2 L288.4,104.8 L288.7,106.4 L289.0,108.0 L289.2,109.6 L289.3,111.3 L289.5,112.9 L289.6,114.6 L289.8,116.2 L290.0,117.9 L290.1,119.5 L290.3,121.2 L290.5,122.8 L290.6,124.5 L290.8,126.1 L290.9,127.8 L291.1,129.4 L291.3,131.0 L291.5,132.7 L291.8,134.3 L292.0,135.9 L292.2,137.6 L292.4,139.2 L292.6,140.8 L292.9,142.5 L293.1,144.1 L293.3,145.7 L293.5,147.4 L293.7,149.0 L294.0,150.6 L294.2,152.3 L294.4,153.9 L294.7,155.5 L294.9,157.2 L295.2,158.8 L295.5,160.4 L295.7,162.0 L296.0,163.7 L296.3,165.3 L296.5,166.9 L296.8,168.5 L297.1,170.2 L297.3,171.8 L297.6,173.4 L297.9,175.1 L298.2,176.7 L298.5,178.3 L298.8,180.0 L299.0,181.7 L299.2,183.3 L299.5,185.0 L299.7,186.7 L299.9,188.3 L300.1,190.0 L300.3,191.7 L300.6,193.3 L300.8,195.0 L301.0,196.7 L301.2,198.4 L301.4,200.0 L301.6,201.7 L301.9,203.4 L302.1,205.0 L302.3,206.7 L302.6,208.4 L302.9,210.0 L303.1,211.7 L303.4,213.3 L303.7,215.0 L304.0,216.7 L304.3,218.3 L304.6,220.0 L304.8,221.7 L305.1,223.3 L305.4,225.0 L305.7,226.7 L306.0,228.3 L306.2,230.0 L306.5,231.6 L306.8,233.3 L307.0,235.0 L307.3,236.6 L307.5,238.3 L307.8,240.0 L308.0,241.6 L308.3,243.3 L308.5,245.0 L308.8,246.7 L309.0,248.3 L309.3,250.0 L309.5,251.7 L309.8,253.3 L310.0,255.0 L310.4,256.7 L310.7,258.4 L311.1,260.0 L311.4,261.7 L311.8,263.4 L312.2,265.1 L312.5,266.8 L312.9,268.4 L313.2,270.1 L313.6,271.8 L313.8,273.5 L314.1,275.2 L314.3,276.8 L314.6,278.5 L314.8,280.2 L315.1,281.9 L315.3,283.5 L315.6,285.2 L315.8,286.9 L316.1,288.6 L316.3,290.2 L316.6,291.9 L316.8,293.6 L317.1,295.3 L317.5,296.9 L317.8,298.6 L318.2,300.3 L318.5,301.9 L318.8,303.6 L319.2,305.3 L319.5,307.0 L319.8,308.6 L320.2,310.3 L320.5,312.0 L320.9,313.6 L321.2,315.3 L321.6,316.9 L322.0,318.5 L322.4,320.1 L322.8,321.7 L323.2,323.3 L323.5,324.8 L323.9,326.4 L324.3,328.0 L324.7,329.6 L325.1,331.2 L325.5,332.8 L326.1,334.4 L326.6,336.1 L327.1,337.7 L327.7,339.3 L328.2,340.9 L328.8,342.6 L329.3,344.2 L329.9,345.8 L330.4,347.3 L330.9,348.9 L331.4,350.4 L332.0,351.9 L332.5,353.5 L333.0,355.0 L333.5,356.6 L333.9,358.3 L334.4,359.9 L334.8,361.6 L335.3,363.2 L335.8,365.0 L336.4,366.8 L336.9,368.6 L337.4,370.4 L338.1,371.9 L338.9,373.4 L339.6,374.9 L340.4,376.3 L341.1,377.8 L341.9,379.3 L342.6,380.8 L343.4,382.2 L344.1,383.7 L344.8,385.2 L345.6,386.6 L346.3,388.1 L347.2,389.6 L348.1,391.1 L348.9,392.6 L349.8,394.1 L350.7,395.6 L351.9,396.8 L353.1,398.0 L354.3,399.1 L355.5,400.3 L356.7,401.5 L357.9,402.7 L359.1,403.9 L360.2,405.0 L361.4,406.2 L362.6,407.4 L364.6,407.9 L366.5,408.3 L368.5,408.9 L370.0,410.1 L371.4,410.8 L372.9,411.7 L374.4,412.6 L375.9,413.5 L377.4,414.7 L378.9,415.0 L380.4,416.3 L382.4,417.4 L384.3,417.6 L386.3,418.5 L388.3,418.7 L390.2,419.8 L392.2,420.2 L394.1,420.5 L395.9,420.7 L397.8,421.2 L399.6,421.7 L401.3,422.0 L403.0,422.3 L404.7,423.1 L406.4,423.7 L408.1,424.1 L409.8,424.4 L411.5,424.6 L413.2,424.6 L414.9,424.2 L416.6,424.5 L418.2,424.3 L419.9,424.7 L421.6,423.8 L423.3,424.0 L425.0,424.0 L426.7,424.2 L428.3,424.6 L430.0,424.3 L431.7,424.6 L433.3,424.5 L435.0,424.6 L436.7,424.7 L438.3,424.4 L440.0,424.5" stroke="#006c00" stroke-width="3.3" fill="none" stroke-linejoin="round" stroke-linecap="round"/><path d="M102.2,409.6 L103.9,408.8 L105.7,408.1 L107.4,407.4 L108.9,407.3 L110.3,406.5 L111.8,405.0 L113.3,404.4 L114.8,402.9 L116.3,401.9 L117.8,401.4 L119.3,400.0 L120.8,398.7 L122.2,397.4 L123.7,397.0 L124.9,395.2 L126.1,394.9 L127.2,392.7 L128.4,391.1 L129.6,390.4 L131.1,389.6 L132.6,389.1 L134.0,387.1 L135.5,387.0 L137.0,386.0 L139.0,385.8 L141.0,386.8 L143.0,386.7 L144.5,386.2 L145.9,384.6 L147.4,382.8 L148.9,382.2 L150.4,380.8 L151.9,380.1 L153.3,378.7 L154.8,377.0 L156.3,376.4 L157.8,375.1 L159.2,372.5 L160.7,371.9 L161.4,370.9 L162.1,368.3 L162.8,367.5 L163.5,366.0 L164.3,364.1 L165.2,363.0 L165.6,361.8 L166.0,360.2 L166.4,358.0 L166.7,356.4 L166.9,354.8 L167.2,353.2 L167.5,351.6 L167.8,350.0 L168.0,348.4 L168.2,346.8 L168.5,345.2 L168.8,343.6 L169.0,342.1 L169.2,340.5 L169.5,338.9 L169.8,337.3 L170.0,335.7 L170.2,334.1 L170.4,332.5 L170.6,330.9 L170.8,329.2 L171.0,327.6 L171.2,326.0 L171.3,324.4 L171.5,322.8 L171.7,321.2 L171.9,319.6 L172.1,317.9 L172.3,316.3 L172.5,314.7 L172.7,313.1 L172.9,311.5 L173.0,309.9 L173.2,308.2 L173.4,306.6 L173.5,305.0 L173.7,303.4 L173.8,301.8 L174.0,300.1 L174.2,298.5 L174.3,296.9 L174.5,295.3 L174.7,293.6 L174.8,292.0 L175.0,290.4 L175.1,288.8 L175.3,287.2 L175.4,285.5 L175.5,283.9 L175.6,282.3 L175.8,280.7 L175.9,279.0 L176.0,277.4 L176.2,275.8 L176.3,274.2 L176.4,272.6 L176.5,270.9 L176.7,269.3 L176.8,267.7 L176.9,266.1 L177.0,264.5 L177.0,262.9 L177.1,261.3 L177.2,259.7 L177.3,258.0 L177.4,256.4 L177.5,254.8 L177.5,253.2 L177.6,251.6 L177.7,250.0 L177.8,248.3 L178.0,246.7 L178.1,245.0 L178.2,243.3 L178.3,241.6 L178.5,240.0 L178.6,238.3 L178.7,236.7 L178.9,235.1 L179.0,233.5 L179.1,231.8 L179.2,230.2 L179.4,228.6 L179.5,227.0 L179.6,225.4 L179.8,223.8 L179.9,222.2 L180.0,220.5 L180.1,218.9 L180.3,217.3 L180.4,215.7 L180.5,214.1 L180.6,212.5 L180.7,210.8 L180.9,209.2 L181.0,207.6 L181.1,206.0 L181.2,204.3 L181.3,202.7 L181.4,201.1 L181.5,199.5 L181.7,197.9 L181.8,196.2 L181.9,194.6 L182.0,193.0 L182.1,191.4 L182.2,189.8 L182.3,188.1 L182.4,186.5 L182.5,184.9 L182.6,183.3 L182.7,181.7 L182.7,180.0 L182.8,178.4 L182.9,176.8 L183.0,175.2 L183.1,173.5 L183.2,171.9 L183.3,170.3 L183.4,168.7 L183.5,167.1 L183.6,165.5 L183.8,163.8 L183.9,162.2 L184.0,160.6 L184.1,159.0 L184.2,157.4 L184.3,155.8 L184.4,154.2 L184.6,152.5 L184.7,150.9 L184.8,149.3 L184.9,147.7 L185.0,146.1 L185.0,144.5 L185.1,142.9 L185.2,141.3 L185.2,139.7 L185.3,138.0 L185.3,136.4 L185.4,134.8 L185.5,133.2 L185.5,131.6 L185.6,130.0 L185.7,128.3 L185.7,126.7 L185.8,125.0 L185.9,123.3 L185.9,121.6 L186.0,120.0 L186.0,118.3 L186.1,116.6 L186.2,114.9 L186.2,113.3 L186.3,111.6 L186.4,109.8 L186.6,108.0 L186.7,106.2 L186.8,104.3 L186.9,102.5 L187.1,100.7 L187.2,98.9 L187.3,97.3 L187.4,95.7 L187.5,94.1 L187.6,92.5 L187.7,90.8 L187.8,89.2 L187.9,87.6 L188.0,86.0 L188.1,84.4 L188.3,82.6 L188.5,80.8 L188.6,79.0 L188.8,77.2 L189.0,75.4 L189.2,73.8 L189.4,72.2 L189.7,70.6 L189.9,69.1 L190.1,67.5 L190.4,65.9 L190.6,64.3 L190.8,62.7 L191.1,60.9 L191.4,59.1 L191.7,57.2 L192.0,55.4 L192.3,53.6 L192.6,51.8 L192.8,50.0 L193.1,48.1 L193.3,46.3 L193.5,44.5 L194.4,43.1 L197.2,44.5 L198.6,46.3 L199.9,48.1 L200.5,49.6 L201.1,51.2 L201.7,52.7 L202.1,54.3 L202.6,55.9 L203.1,57.4 L203.5,59.0 L204.8,60.0 L206.0,61.0 L206.5,62.8 L207.1,64.7 L207.6,66.5 L207.8,68.3 L207.9,70.1 L208.1,71.8 L208.2,73.6 L208.4,75.4 L208.5,77.2 L208.7,79.0 L208.8,80.8 L209.0,82.6 L209.1,84.4 L209.3,86.2 L209.4,88.0 L209.6,89.9 L209.7,91.7 L209.9,93.5 L210.1,95.3 L210.3,97.1 L210.4,99.0 L210.6,100.8 L210.8,102.6 L211.3,104.4 L211.9,106.2 L212.4,108.0 L213.0,109.8 L213.5,111.6 L213.9,113.4 L214.2,115.2 L214.6,117.1 L214.9,118.9 L215.3,120.7 L215.5,122.6 L215.7,124.4 L215.8,126.3 L216.0,128.1 L216.2,130.0 L216.3,131.6 L216.5,133.2 L216.6,134.8 L216.8,136.4 L216.9,138.0 L217.1,139.7 L217.2,141.3 L217.4,142.9 L217.5,144.5 L217.7,146.1 L217.8,147.7 L218.0,149.3 L218.3,150.9 L218.5,152.5 L218.8,154.2 L219.0,155.8 L219.3,157.4 L219.5,159.0 L219.7,160.6 L220.0,162.2 L220.2,163.8 L220.5,165.5 L220.7,167.1 L221.0,168.7 L221.2,170.3 L221.5,171.9 L221.7,173.5 L222.0,175.1 L222.2,176.7 L222.5,178.3 L222.8,179.9 L223.0,181.4 L223.3,183.0 L223.6,184.6 L223.8,186.2 L224.1,187.8 L224.3,189.4 L224.6,191.0 L224.9,192.6 L225.3,194.2 L225.6,195.8 L225.9,197.4 L226.3,199.0 L226.6,200.6 L226.9,202.2 L227.3,203.8 L227.6,205.4 L227.9,207.0 L228.3,208.6 L228.6,210.2 L228.8,211.8 L229.1,213.5 L229.3,215.2 L229.6,216.8 L229.8,218.4 L230.1,220.1 L230.3,221.8 L230.6,223.4 L230.8,225.1 L231.1,226.7 L231.3,228.3 L231.6,230.0 L231.8,231.7 L232.1,233.3 L232.3,235.0 L232.6,236.6 L232.8,238.3 L233.1,240.0 L233.3,241.7 L233.5,243.3 L233.8,245.0 L234.0,246.7 L234.3,248.3 L234.5,250.0 L234.8,251.7 L235.2,253.4 L235.5,255.2 L235.9,256.9 L236.2,258.6 L236.7,260.2 L237.2,261.9 L237.7,263.5 L238.1,265.1 L238.6,266.7 L239.1,268.4 L239.6,270.0 L239.9,271.6 L240.3,273.2 L240.6,274.7 L241.0,276.3 L241.3,277.9 L241.6,279.5 L242.0,281.1 L242.3,282.6 L242.7,284.2 L243.0,285.8 L243.3,287.4 L243.7,289.0 L244.0,290.6 L244.4,292.2 L244.7,293.8 L245.0,295.3 L245.4,296.9 L245.7,298.5 L246.1,300.1 L246.4,301.7 L246.8,303.3 L247.1,304.8 L247.5,306.4 L247.9,308.0 L248.3,309.6 L248.6,311.1 L249.0,312.7 L249.4,314.3 L249.8,315.9 L250.1,317.4 L250.5,319.0 L251.0,320.6 L251.5,322.3 L252.0,323.9 L252.4,325.6 L252.9,327.2 L253.4,328.8 L253.9,330.5 L254.4,332.1 L254.9,333.7 L255.3,335.4 L255.8,337.0 L256.3,338.7 L256.8,340.3 L257.3,342.0 L257.7,343.6 L258.2,345.3 L258.7,347.0 L259.1,348.6 L259.6,350.3 L260.1,352.0 L260.6,353.7 L261.0,355.3 L261.5,357.0 L262.0,358.7 L262.5,360.5 L263.1,362.2 L263.6,363.9 L264.1,365.7 L264.6,367.4 L265.4,368.9 L266.1,370.4 L266.9,371.8 L267.6,373.3 L268.2,375.1 L268.8,376.9 L269.4,378.6 L270.0,380.4 L270.6,382.2 L271.2,383.9 L271.7,385.6 L272.2,387.2 L272.8,388.9 L273.4,390.6 L273.9,392.2 L274.4,393.9 L275.0,395.6 L276.2,397.1 L277.4,398.6 L278.5,400.0 L279.7,401.5 L280.9,403.0 L282.1,404.2 L283.3,405.4 L284.5,406.5 L285.7,407.7 L286.9,408.9 L288.0,410.4 L289.1,411.9 L290.2,413.3 L291.3,414.8 L293.1,416.7 L295.0,417.8 L296.9,417.8 L298.9,417.8 L300.9,417.2 L302.8,417.8 L304.8,417.0 L306.3,417.6 L307.8,418.8 L309.3,419.3 L310.8,420.0 L312.2,420.6 L313.7,421.2 L315.2,422.2 L317.0,422.3 L318.8,422.1 L320.5,421.7 L322.3,421.2 L324.1,420.7 L325.6,420.9 L327.1,422.4 L328.5,422.9 L330.0,423.7 L332.0,422.8 L333.9,422.4 L335.9,422.2 L337.9,423.0 L339.9,424.2 L341.9,424.4 L343.9,423.7 L345.8,423.5 L347.8,423.7 L349.5,423.0 L351.3,422.8 L353.0,423.0" stroke="#00007a" stroke-width="3.3" fill="none" stroke-linejoin="round" stroke-linecap="round"/><path d="M102.2,417.8 L103.9,416.9 L105.6,416.8 L107.2,415.3 L108.9,414.8 L110.9,414.6 L112.8,415.4 L114.8,415.6 L116.7,415.8 L118.5,415.8 L120.3,416.5 L122.2,416.3 L123.7,415.8 L125.2,415.1 L126.6,414.5 L128.1,412.8 L129.6,412.6 L131.4,411.5 L133.3,411.0 L135.2,411.4 L137.0,410.4 L138.5,408.7 L140.0,408.0 L141.5,407.2 L143.0,405.9 L144.5,404.5 L146.0,404.6 L147.4,403.3 L148.9,402.1 L150.4,401.5 L152.4,400.9 L154.3,399.5 L156.3,399.3 L158.2,398.1 L160.0,398.2 L161.8,397.1 L163.7,396.3 L165.2,395.1 L166.7,394.4 L168.1,393.6 L169.6,393.6 L171.1,392.6 L173.3,391.6 L175.6,391.1 L177.1,390.3 L178.6,389.2 L180.0,388.2 L181.5,386.7 L182.7,385.1 L183.9,383.7 L185.0,382.6 L186.2,381.2 L187.4,379.3 L188.4,378.3 L189.4,376.9 L190.4,375.4 L191.3,373.7 L192.3,371.7 L193.3,370.4 L194.0,368.5 L194.7,367.5 L195.4,365.2 L196.3,364.1 L197.2,362.5 L198.1,361.3 L199.0,359.3 L199.9,358.4 L200.8,356.7 L201.7,355.9 L202.6,354.5 L203.5,353.5 L204.4,351.6 L205.2,350.4 L206.1,347.6 L207.0,346.8 L207.8,344.8 L208.4,343.1 L209.0,342.0 L209.6,339.8 L210.1,339.2 L210.7,337.4 L211.3,335.7 L212.4,334.2 L213.6,333.5 L214.7,331.1 L215.8,330.1 L217.3,329.3 L218.8,327.8 L220.3,326.7 L220.8,325.1 L221.3,323.0 L221.9,321.4 L222.4,320.4 L222.9,319.3 L223.4,316.8 L224.0,316.0 L224.5,314.5 L225.0,312.4 L225.5,310.7 L226.1,309.6 L226.6,308.5 L227.1,306.3 L227.6,304.5 L228.0,303.1 L228.5,301.5 L228.9,299.9 L229.4,298.4 L229.9,296.8 L230.3,295.2 L230.8,293.6 L231.2,292.0 L231.7,290.4 L232.1,288.7 L232.5,287.0 L233.0,285.3 L233.4,283.6 L233.8,281.9 L234.2,280.2 L234.7,278.5 L235.1,276.8 L235.4,275.0 L235.6,273.3 L235.9,271.5 L236.1,269.8 L236.4,268.0 L236.6,266.3 L236.9,264.5 L237.1,262.8 L237.4,261.0 L237.6,259.4 L237.8,257.8 L238.1,256.2 L238.3,254.6 L238.5,253.0 L238.7,251.4 L238.9,249.8 L239.2,248.2 L239.4,246.6 L239.6,245.0 L239.8,243.3 L240.0,241.7 L240.2,240.0 L240.4,238.3 L240.6,236.6 L240.8,235.0 L241.0,233.3 L241.2,231.6 L241.4,230.0 L241.7,228.3 L241.9,226.7 L242.1,225.0 L242.3,223.3 L242.6,221.7 L242.8,220.0 L243.0,218.3 L243.2,216.7 L243.5,215.0 L243.7,213.3 L243.9,211.7 L244.2,210.0 L244.4,208.4 L244.6,206.7 L244.8,205.0 L244.9,203.4 L245.1,201.7 L245.2,200.0 L245.4,198.4 L245.6,196.7 L245.7,195.0 L245.9,193.3 L246.1,191.7 L246.2,190.0 L246.4,188.3 L246.5,186.7 L246.7,185.0 L246.9,183.3 L247.0,181.7 L247.2,180.0 L247.3,178.4 L247.4,176.7 L247.5,175.1 L247.6,173.5 L247.7,171.8 L247.8,170.2 L248.0,168.6 L248.2,166.9 L248.3,165.3 L248.5,163.7 L248.7,162.1 L248.9,160.4 L249.1,158.8 L249.2,157.2 L249.4,155.5 L249.6,153.9 L249.8,152.3 L250.0,150.6 L250.2,149.0 L250.5,147.4 L250.7,145.7 L250.9,144.1 L251.1,142.5 L251.3,140.8 L251.5,139.2 L251.7,137.6 L251.9,135.9 L252.2,134.3 L252.4,132.7 L252.6,131.0 L252.8,129.4 L253.0,127.8 L253.2,126.1 L253.4,124.5 L253.6,122.9 L253.8,121.3 L254.0,119.6 L254.2,118.0 L254.5,116.4 L254.7,114.8 L254.9,113.1 L255.1,111.5 L255.3,109.9 L255.5,108.3 L255.7,106.6 L255.9,105.0 L256.0,103.3 L256.2,101.7 L256.3,100.0 L256.4,98.3 L256.6,96.7 L256.7,95.0 L256.8,93.3 L257.0,91.7 L257.1,90.0 L257.3,88.3 L257.5,86.5 L257.7,84.8 L258.0,83.1 L258.2,81.4 L258.4,79.6 L258.6,77.9 L258.9,76.3 L259.2,74.7 L259.5,73.1 L259.8,71.5 L260.1,69.9 L260.5,68.2 L260.9,66.4 L261.2,64.7 L261.6,62.9 L261.9,61.3 L262.2,59.7 L262.5,58.2 L262.8,56.6 L263.1,55.0 L263.4,53.4 L263.7,51.8 L264.0,50.2 L264.3,48.6 L264.6,47.0 L265.8,45.2 L267.0,43.5 L268.0,44.8 L269.0,46.0 L269.3,47.8 L269.6,49.6 L269.8,51.4 L270.1,53.2 L270.4,55.0 L270.7,57.0 L271.1,58.9 L271.4,60.9 L271.8,62.6 L272.1,64.4 L272.5,66.2 L272.9,67.9 L273.2,69.7 L273.5,71.5 L273.8,73.3 L274.1,75.1 L274.4,76.9 L274.6,78.5 L274.8,80.2 L275.0,81.8 L275.1,83.5 L275.3,85.1 L275.5,86.7 L275.7,88.4 L275.9,90.0 L276.2,92.0 L276.4,94.0 L276.7,96.0 L276.8,97.8 L277.0,99.7 L277.1,101.5 L277.2,103.3 L277.4,105.2 L277.5,107.0 L277.6,108.6 L277.7,110.2 L277.8,111.8 L277.9,113.4 L278.0,115.0 L278.1,116.6 L278.2,118.2 L278.3,119.8 L278.4,121.4 L278.5,123.0 L278.6,124.6 L278.7,126.2 L278.8,127.8 L278.9,129.4 L279.1,131.0 L279.2,132.7 L279.4,134.3 L279.5,135.9 L279.7,137.6 L279.9,139.2 L280.0,140.8 L280.2,142.5 L280.3,144.1 L280.5,145.7 L280.7,147.4 L280.8,149.0 L281.0,150.6 L281.1,152.3 L281.3,153.9 L281.5,155.5 L281.6,157.2 L281.8,158.8 L282.0,160.4 L282.1,162.1 L282.3,163.7 L282.5,165.3 L282.7,166.9 L282.8,168.6 L283.0,170.2 L283.1,171.8 L283.2,173.5 L283.3,175.1 L283.4,176.7 L283.5,178.4 L283.6,180.0 L283.8,181.7 L283.9,183.3 L284.1,185.0 L284.3,186.7 L284.4,188.3 L284.6,190.0 L284.8,191.7 L285.0,193.3 L285.1,195.0 L285.3,196.7 L285.5,198.4 L285.6,200.0 L285.8,201.7 L286.0,203.4 L286.1,205.0 L286.3,206.7 L286.5,208.4 L286.8,210.0 L287.0,211.7 L287.2,213.3 L287.4,215.0 L287.6,216.7 L287.9,218.3 L288.1,220.0 L288.3,221.7 L288.6,223.3 L288.8,225.0 L289.0,226.7 L289.2,228.3 L289.4,230.0 L289.7,231.6 L289.9,233.3 L290.1,235.0 L290.3,236.6 L290.5,238.3 L290.7,240.0 L290.9,241.7 L291.0,243.3 L291.2,245.0 L291.4,246.7 L291.6,248.3 L291.8,250.0 L292.1,251.7 L292.3,253.3 L292.6,255.0 L292.9,256.7 L293.1,258.3 L293.4,260.0 L293.8,261.9 L294.2,263.7 L294.6,265.5 L295.0,267.4 L295.4,269.1 L295.7,270.8 L296.1,272.5 L296.5,274.2 L296.8,275.9 L297.2,277.6 L297.6,279.3 L297.9,281.0 L298.3,282.7 L298.7,284.3 L299.1,285.9 L299.5,287.4 L299.9,289.0 L300.3,290.6 L300.7,292.2 L301.1,293.8 L301.5,295.4 L301.9,296.9 L302.3,298.5 L302.7,300.1 L303.2,301.6 L303.8,303.1 L304.3,304.7 L304.9,306.2 L305.4,307.7 L305.9,309.2 L306.5,310.7 L307.0,312.3 L307.6,313.8 L308.1,315.3 L308.6,316.9 L309.1,318.5 L309.6,320.1 L310.1,321.7 L310.6,323.3 L311.1,324.8 L311.6,326.4 L312.1,328.0 L312.6,329.6 L313.1,331.2 L313.6,332.8 L314.3,334.2 L315.0,335.7 L315.8,337.1 L316.5,338.6 L317.2,340.1 L317.9,341.5 L318.4,343.1 L319.0,344.8 L319.6,346.4 L320.1,348.0 L320.6,349.6 L321.2,351.2 L321.8,352.9 L322.3,354.5 L322.9,356.3 L323.5,358.2 L324.1,360.0 L324.7,361.7 L325.4,363.4 L326.0,365.1 L326.6,366.8 L327.2,368.5 L327.9,370.2 L328.5,371.9 L329.4,373.4 L330.3,374.9 L331.2,376.3 L332.1,377.8 L333.0,379.3 L333.9,380.8 L334.8,382.3 L335.6,383.7 L336.5,385.2 L337.4,386.7 L338.5,388.2 L339.6,389.6 L340.8,391.1 L341.9,392.6 L343.0,394.1 L344.1,395.6 L345.2,397.0 L346.3,398.5 L347.8,400.0 L349.2,401.5 L350.7,403.0 L351.8,404.5 L352.9,405.9 L354.1,407.4 L355.2,408.9 L356.7,410.0 L358.1,411.1 L359.6,412.2 L361.1,413.3 L362.6,414.2 L364.1,415.1 L365.5,416.0 L367.0,417.0 L368.9,417.4 L370.7,418.0 L372.5,419.0 L374.4,419.3 L376.3,419.3 L378.1,419.8 L380.0,420.8 L381.9,420.7 L383.5,420.6 L385.1,421.1 L386.8,420.9 L388.4,421.3 L390.0,421.5 L391.6,421.7 L393.2,421.9 L394.8,421.9 L396.4,421.2 L398.0,421.6 L399.6,421.7 L401.2,422.0 L402.9,422.2 L404.5,421.9 L406.2,421.4 L407.8,421.8 L409.5,421.7 L411.1,421.3 L412.8,421.7 L414.4,421.7 L416.1,421.3 L417.7,421.4 L419.4,421.8 L421.0,421.8 L422.7,421.8 L424.3,421.6 L426.0,421.5 L427.6,421.7 L429.3,421.7 L430.9,421.5 L432.6,422.0 L434.2,421.5 L435.8,421.7 L437.5,422.3 L439.1,422.6 L440.7,422.6 L442.4,422.2 L444.0,422.4 L445.9,423.1 L447.8,422.4 L449.6,423.0 L451.5,423.1" stroke="#66006c" stroke-width="3.3" fill="none" stroke-linejoin="round" stroke-linecap="round"/></g>
<g stroke="#000" stroke-width="2" fill="none"><line x1="102" y1="4.4" x2="102" y2="473" /><line x1="97" y1="464" x2="664" y2="464" /><line x1="97" y1="463.70" x2="102" y2="463.70" /><line x1="92" y1="425.50" x2="102" y2="425.50" /><line x1="97" y1="387.30" x2="102" y2="387.30" /><line x1="92" y1="349.10" x2="102" y2="349.10" /><line x1="97" y1="310.90" x2="102" y2="310.90" /><line x1="92" y1="272.70" x2="102" y2="272.70" /><line x1="97" y1="234.50" x2="102" y2="234.50" /><line x1="92" y1="196.30" x2="102" y2="196.30" /><line x1="97" y1="158.10" x2="102" y2="158.10" /><line x1="92" y1="119.90" x2="102" y2="119.90" /><line x1="97" y1="81.70" x2="102" y2="81.70" /><line x1="92" y1="43.50" x2="102" y2="43.50" /><line x1="97" y1="5.30" x2="102" y2="5.30" /><line x1="102.00" y1="464" x2="102.00" y2="474" /><line x1="164.40" y1="464" x2="164.40" y2="469" /><line x1="226.80" y1="464" x2="226.80" y2="474" /><line x1="289.20" y1="464" x2="289.20" y2="469" /><line x1="351.60" y1="464" x2="351.60" y2="474" /><line x1="414.00" y1="464" x2="414.00" y2="469" /><line x1="476.40" y1="464" x2="476.40" y2="474" /><line x1="538.80" y1="464" x2="538.80" y2="469" /><line x1="601.20" y1="464" x2="601.20" y2="474" /><line x1="663.60" y1="464" x2="663.60" y2="469" /></g>
<g font-family="Liberation Sans" font-weight="bold" font-size="27" fill="#000"><text x="87.1" y="432.50" text-anchor="end">0.0</text><text x="87.1" y="356.10" text-anchor="end">0.2</text><text x="87.1" y="279.70" text-anchor="end">0.4</text><text x="87.1" y="203.30" text-anchor="end">0.6</text><text x="87.1" y="126.90" text-anchor="end">0.8</text><text x="87.1" y="50.50" text-anchor="end">1.0</text><text x="102.00" y="501.3" text-anchor="middle">0.8</text><text x="226.80" y="501.3" text-anchor="middle">1.0</text><text x="351.60" y="501.3" text-anchor="middle">1.2</text><text x="476.40" y="501.3" text-anchor="middle">1.4</text><text x="601.20" y="501.3" text-anchor="middle">1.6</text></g>
<g font-family="Liberation Serif" font-weight="bold" font-size="42" fill="#000"><text x="410" y="537" text-anchor="middle">Energy (eV)</text><text transform="translate(34,229.6) rotate(-90)" text-anchor="middle" font-size="43">Intensity (a.u)</text></g>
<g font-family="Liberation Serif" font-weight="bold" font-size="19.5" fill="#000"><line x1="370.5" y1="37.8" x2="412.8" y2="37.8" stroke="#000000" stroke-width="3.4" stroke-linecap="round"/><text x="417" y="44.7">16 at.% Sb: Reference sample</text><line x1="370.5" y1="62.3" x2="412.8" y2="62.3" stroke="#e20a0a" stroke-width="3.4" stroke-linecap="round"/><text x="417" y="69.4">17 at.% Sb: V/III ratio change</text><line x1="370.5" y1="90.9" x2="412.8" y2="90.9" stroke="#0000e8" stroke-width="3.4" stroke-linecap="round"/><text x="417" y="98.7">24 at.% Sb: 620/600 <tspan dy="-11.5" font-size="12.5">o</tspan><tspan dy="11.5" dx="0.8">C</tspan></text><line x1="370.5" y1="119.9" x2="412.8" y2="119.9" stroke="#e20ee2" stroke-width="3.4" stroke-linecap="round"/><text x="417" y="127.7">25 at.% Sb: 620/580 <tspan dy="-11.5" font-size="12.5">o</tspan><tspan dy="11.5" dx="0.8">C</tspan></text><line x1="370.5" y1="148.9" x2="412.8" y2="148.9" stroke="#006c00" stroke-width="3.4" stroke-linecap="round"/><text x="417" y="156.7">28 at.% Sb: 620/590 <tspan dy="-11.5" font-size="12.5">o</tspan><tspan dy="11.5" dx="0.8">C with</tspan></text><line x1="370.5" y1="203.3" x2="412.8" y2="203.3" stroke="#00007a" stroke-width="3.4" stroke-linecap="round"/><text x="417" y="210.3">29 at.% Sb: 620/590 <tspan dy="-11.5" font-size="12.5">o</tspan><tspan dy="11.5" dx="0.8">C</tspan></text><line x1="370.5" y1="232.1" x2="412.8" y2="232.1" stroke="#66006c" stroke-width="3.4" stroke-linecap="round"/><text x="417" y="239.2">34 at.% Sb: 620/590 <tspan dy="-11.5" font-size="12.5">o</tspan><tspan dy="11.5" dx="0.8">C with</tspan></text><text x="522.5" y="180.9">Ga flux variation</text><text x="522.5" y="264.3">Ga flux variation</text></g>
</svg>
</body></html>
